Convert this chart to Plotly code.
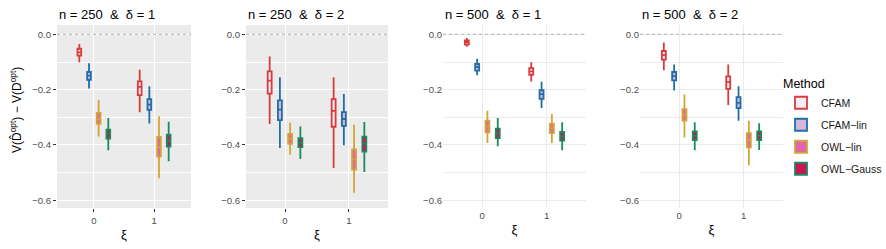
import plotly.graph_objects as go

# ---------------- data ----------------
methods = ["CFAM", "CFAM−lin", "OWL−lin", "OWL−Gauss"]
xi_levels = [0, 1]
xi_labels = ["0", "1"]
panel_titles = ["n = 250  &  δ = 1", "n = 250  &  δ = 2",
                "n = 500  &  δ = 1", "n = 500  &  δ = 2"]
y_ticks = [0.0, -0.2, -0.4, -0.6]

# five-number summaries [lower whisker, q1, median, q3, upper whisker], one per xi level
P1_CFAM      = [[-0.101, -0.077, -0.065, -0.052, -0.035], [-0.282, -0.220, -0.190, -0.170, -0.128]]
P1_CFAM_LIN  = [[-0.196, -0.164, -0.149, -0.136, -0.104], [-0.322, -0.273, -0.254, -0.234, -0.188]]
P1_OWL_LIN   = [[-0.369, -0.324, -0.306, -0.284, -0.236], [-0.520, -0.442, -0.408, -0.371, -0.296]]
P1_OWL_GAUSS = [[-0.419, -0.377, -0.360, -0.345, -0.302], [-0.459, -0.406, -0.385, -0.363, -0.316]]

P2_CFAM      = [[-0.324, -0.214, -0.167, -0.134, -0.080], [-0.483, -0.334, -0.277, -0.234, -0.155]]
P2_CFAM_LIN  = [[-0.411, -0.310, -0.272, -0.239, -0.155], [-0.401, -0.331, -0.306, -0.281, -0.216]]
P2_OWL_LIN   = [[-0.435, -0.396, -0.378, -0.360, -0.320], [-0.573, -0.489, -0.453, -0.416, -0.327]]
P2_OWL_GAUSS = [[-0.451, -0.408, -0.392, -0.375, -0.333], [-0.498, -0.424, -0.396, -0.370, -0.317]]

P3_CFAM      = [[-0.045, -0.037, -0.029, -0.022, -0.013], [-0.170, -0.146, -0.134, -0.122, -0.101]]
P3_CFAM_LIN  = [[-0.148, -0.131, -0.118, -0.107, -0.088], [-0.266, -0.233, -0.216, -0.202, -0.171]]
P3_OWL_LIN   = [[-0.393, -0.354, -0.333, -0.312, -0.276], [-0.393, -0.357, -0.339, -0.323, -0.288]]
P3_OWL_GAUSS = [[-0.405, -0.375, -0.358, -0.341, -0.302], [-0.419, -0.384, -0.369, -0.353, -0.318]]

P4_CFAM      = [[-0.130, -0.091, -0.075, -0.060, -0.029], [-0.255, -0.197, -0.173, -0.152, -0.109]]
P4_CFAM_LIN  = [[-0.203, -0.166, -0.151, -0.136, -0.109], [-0.312, -0.267, -0.248, -0.227, -0.188]]
P4_OWL_LIN   = [[-0.373, -0.312, -0.290, -0.270, -0.217], [-0.473, -0.409, -0.383, -0.357, -0.312]]
P4_OWL_GAUSS = [[-0.419, -0.382, -0.367, -0.351, -0.318], [-0.418, -0.382, -0.366, -0.351, -0.321]]

panels = [
    [P1_CFAM, P1_CFAM_LIN, P1_OWL_LIN, P1_OWL_GAUSS],
    [P2_CFAM, P2_CFAM_LIN, P2_OWL_LIN, P2_OWL_GAUSS],
    [P3_CFAM, P3_CFAM_LIN, P3_OWL_LIN, P3_OWL_GAUSS],
    [P4_CFAM, P4_CFAM_LIN, P4_OWL_LIN, P4_OWL_GAUSS],
]
REF_LINE = 0.0

# ---------------- style ----------------
line_colors = ["#D93A3B", "#1F6EA8", "#D3A535", "#1B8A5C"]
fill_colors = ["#F1EEF6", "#D7B5D8", "#DF65B0", "#CE1256"]
DODGE = [-0.24, -0.08, 0.08, 0.24]
BOX_W = 0.062
FONT = "Liberation Sans, Arial, sans-serif"
W, H = 886, 249
panel_px = [(57, 191), (246, 388), (443, 586), (640, 783)]
panel_top, panel_bot = 25, 208
grey_theme = [True, True, False, False]

fig = go.Figure()
layout_axes = {}

for p, pdata in enumerate(panels):
    suffix = "" if p == 0 else str(p + 1)
    for m, stats in enumerate(pdata):
        fig.add_trace(go.Box(
            x=[xv + DODGE[m] for xv in xi_levels],
            lowerfence=[s[0] for s in stats],
            q1=[s[1] for s in stats],
            median=[s[2] for s in stats],
            q3=[s[3] for s in stats],
            upperfence=[s[4] for s in stats],
            width=BOX_W,
            whiskerwidth=0,
            boxpoints=False,
            line=dict(color=line_colors[m], width=1.8),
            fillcolor=fill_colors[m],
            name=methods[m],
            legendgroup=methods[m],
            showlegend=(p == 3),
            hoverinfo="skip",
            xaxis="x" + suffix, yaxis="y" + suffix,
        ))

    x0, x1 = panel_px[p]
    grey = grey_theme[p]
    gridc = "#FFFFFF" if grey else "#EBEBEB"
    layout_axes["xaxis" + suffix] = dict(
        domain=[x0 / W, x1 / W], range=[-0.61, 1.61], autorange=False,
        automargin=False, anchor="y" + suffix,
        tickmode="array", tickvals=xi_levels, ticktext=xi_labels,
        showgrid=True, gridcolor=gridc, gridwidth=1.3, zeroline=False,
        ticks="outside" if grey else "", ticklen=3, tickcolor="#333333", tickwidth=1,
        tickfont=dict(family=FONT, size=9.6, color="#4D4D4D"),
        title=dict(text="ξ", font=dict(family=FONT, size=13, color="#000000"), standoff=5),
        showline=False, fixedrange=True,
    )
    layout_axes["yaxis" + suffix] = dict(
        domain=[1 - panel_bot / H, 1 - panel_top / H], range=[-0.628, 0.034],
        autorange=False, automargin=False, anchor="x" + suffix,
        tickmode="array", tickvals=y_ticks, tickformat=".1f",
        showgrid=True, gridcolor=gridc, gridwidth=1.3, zeroline=False,
        minor=dict(dtick=0.1, tick0=0, showgrid=True, gridcolor=gridc, gridwidth=0.6),
        ticks="outside" if grey else "", ticklen=3, tickcolor="#333333", tickwidth=1,
        tickfont=dict(family=FONT, size=9.6, color="#4D4D4D"),
        showline=False, fixedrange=True,
    )
    if grey:
        fig.add_shape(type="rect", xref="paper", yref="paper",
                      x0=x0 / W, x1=x1 / W, y0=1 - panel_bot / H, y1=1 - panel_top / H,
                      fillcolor="#EBEBEB", line=dict(width=0), layer="below")
    fig.add_shape(type="line", xref="x" + suffix + " domain", yref="y" + suffix,
                  x0=0, x1=1, y0=REF_LINE, y1=REF_LINE,
                  line=dict(color="#BEBEBE", width=1.4, dash="dot"), layer="above")
    fig.add_annotation(text=panel_titles[p], xref="paper", yref="paper",
                       x=x0 / W, y=1 - 14 / H, xanchor="left", yanchor="middle",
                       showarrow=False, font=dict(family=FONT, size=13, color="#000000"))

fig.add_annotation(text="V(D\u0302<sup>opt</sup>) − V(D<sup>opt</sup>)",
                   xref="paper", yref="paper", x=16 / W, y=1 - 110 / H,
                   xanchor="center", yanchor="middle", textangle=-90, showarrow=False,
                   font=dict(family=FONT, size=12, color="#000000"))

fig.update_layout(
    width=W, height=H,
    margin=dict(l=0, r=0, t=0, b=0, autoexpand=False),
    paper_bgcolor="#FFFFFF", plot_bgcolor="rgba(0,0,0,0)",
    boxmode="overlay",
    showlegend=True,
    legend=dict(
        x=781 / W, y=1 - 72 / H, xanchor="left", yanchor="top",
        title=dict(text="Method", font=dict(family=FONT, size=12.5, color="#000000")),
        font=dict(family=FONT, size=10.5, color="#1A1A1A"),
        bgcolor="rgba(0,0,0,0)", itemwidth=30, tracegroupgap=3,
    ),
    **layout_axes,
)

fig.write_html("out.html", config={"displayModeBar": False},
               post_script="document.body.style.margin='0px';document.body.style.padding='0px';")
